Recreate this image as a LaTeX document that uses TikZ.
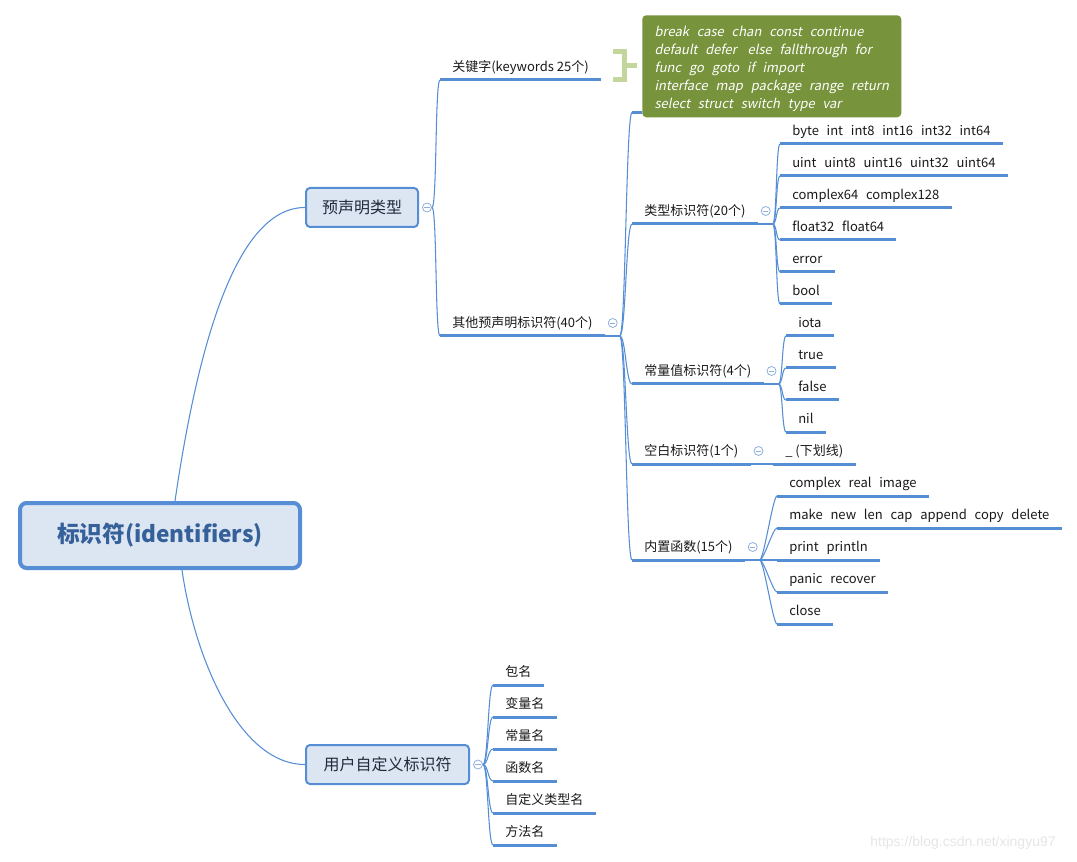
\documentclass[tikz,border=0pt]{standalone}
\usepackage{fontspec}
\setmainfont{Noto Sans CJK SC}
\newfontfamily\kwfont[FakeSlant=0.2]{Noto Sans CJK SC}
\newfontfamily\urlfont{Liberation Sans}
\newcommand{\wsp}{\hspace{0.6em}}
\usetikzlibrary{positioning}
\definecolor{mapline}{HTML}{558ED5}
\definecolor{boxfill}{HTML}{DCE6F2}
\definecolor{roottext}{HTML}{35609A}
\definecolor{topictext}{HTML}{1F2A3C}
\definecolor{foldline}{HTML}{8FB0DE}
\definecolor{kwgreen}{HTML}{77933C}
\definecolor{kwbracket}{HTML}{C3D69B}
\tikzset{
  root/.style = {
    draw = mapline,
    fill = boxfill,
    line width = 3pt,
    rounded corners = 5pt,
    minimum width = 210pt,
    minimum height = 48.75pt,
    text = roottext,
    font = \bfseries\fontsize{17pt}{20pt}\selectfont
  }
  ,
  topic/.style = {
    draw = mapline,
    fill = boxfill,
    line width = 1.5pt,
    rounded corners = 3pt,
    inner xsep = 0pt,
    minimum height = 29.25pt,
    text = topictext,
    font = \fontsize{12pt}{14pt}\selectfont
  }
  , % underlined entries
  leaf/.style = {
    anchor = south west,
    inner xsep = 9pt,
    inner ysep = 0pt,
    text height = 9pt,
    text depth = 6pt,
    text = black!90,
    font = \fontsize{9.75pt}{12pt}\selectfont
  }
  ,
  fold/.style = {
    circle,
    draw = foldline,
    fill = white,
    line width = 0.6pt,
    minimum size = 6.75pt,
    inner sep = 0pt,
    path picture = {
      \draw[foldline, line width=0.6pt]
        ([xshift=-2pt]path picture bounding box.center) --
        ([xshift=2pt]path picture bounding box.center);
    }
  }
  ,
  branch/.style = {draw=mapline, line width=0.8pt},
  uline/.style = {draw=mapline, line width=2.25pt}
}
\begin{document}
\begin{tikzpicture}[x=0.75pt, y=-0.75pt]
  \useasboundingbox (0,0) rectangle (1077,862);

  \node[root] (root) at (160,535.5) {标识符(identifiers)};
  \node[topic, minimum width=84pt] (pre) at (362,207.5) {预声明类型};
  \node[topic, minimum width=122.25pt] (user) at (387.5,764.5) {用户自定义标识符};

  \draw[branch] ([xshift=11.25pt]root.north) .. controls +(25,-171) and +(-65,0) .. (pre.west);
  \draw[branch] ([xshift=16.5pt]root.south) .. controls +(13,90) and +(-65,0) .. (user.west);

  % predeclared
  \node[fold] (f-pre) at ([xshift=6pt]pre.east) {};
  \coordinate (o-pre) at ([xshift=9.75pt]pre.east);
  \node[leaf] (kw) at (440,80) {关键字(keywords 25个)};
  \node[leaf] (other) at (440,336) {其他预声明标识符(40个)};
  \draw[branch] (o-pre) .. controls +(5,0) and +(-5,0) .. (kw.south west);
  \draw[branch] (o-pre) .. controls +(5,0) and +(-5,0) .. (other.south west);

  \node[fill=kwgreen, rounded corners=3pt, anchor=north west, minimum width=194.25pt,
        minimum height=76.5pt, align=left, text=white,
        font=\kwfont\fontsize{9.75pt}{13.5pt}\selectfont] (kwbox) at (642,15)
    {\rule{0pt}{11.5pt}break\wsp case\wsp chan\wsp const\wsp continue\\
     default\wsp defer\wsp\ else\wsp fallthrough\wsp for\\
     func\wsp go\wsp goto\wsp if\wsp import\\
     interface\wsp map\wsp package\wsp range\wsp return\\
     select\wsp struct\wsp switch\wsp type\wsp var};
  \draw[kwbracket, line width=3.75pt] (613,52) -- (624,52) -- (624,80) -- (613,80)
    (624,66) -- (637,66);

  % other predeclared identifiers
  \node[fold] (f-other) at ([xshift=6pt, yshift=9.75pt]other.south east) {};
  \coordinate (o-other) at ([xshift=11.25pt]other.south east);
  \node[leaf] (type) at (632,224) {类型标识符(20个)};
  \node[leaf] (const) at (632,384) {常量值标识符(4个)};
  \node[leaf] (blank) at (632,464) {空白标识符(1个)};
  \node[leaf] (builtin) at (632,560) {内置函数(15个)};
  \draw[branch] (o-other) .. controls +(6,0) and +(-6,0) .. ([xshift=-7.5pt, yshift=3.75pt]kwbox.south west);
  \draw[uline] ([xshift=-7.5pt, yshift=3.75pt]kwbox.south west) -- ([yshift=3.75pt]kwbox.south west);
  \foreach \n in {type,const,blank,builtin}
    \draw[branch] (o-other) .. controls +(6,0) and +(-6,0) .. (\n.south west);

  % type identifiers
  \node[leaf] (byte) at (780,144) {byte\wsp int\wsp int8\wsp int16\wsp int32\wsp int64};
  \node[leaf] (uint) at (780,176) {uint\wsp uint8\wsp uint16\wsp uint32\wsp uint64};
  \node[leaf] (cplx) at (780,208) {complex64\wsp complex128};
  \node[leaf] (float) at (780,240) {float32\wsp float64};
  \node[leaf] (error) at (780,272) {error};
  \node[leaf] (bool) at (780,304) {bool};
  \node[fold] (f-type) at ([xshift=6pt, yshift=9.75pt]type.south east) {};
  \coordinate (o-type) at ([xshift=11.25pt]type.south east);
  \foreach \n in {byte,uint,cplx,float,error,bool}
    \draw[branch] (o-type) .. controls +(4,0) and +(-4,0) .. (\n.south west);

  % constants
  \node[leaf] (iota) at (786,336) {iota};
  \node[leaf] (true) at (786,368) {true};
  \node[leaf] (false) at (786,400) {false};
  \node[leaf] (nil) at (786,432) {nil};
  \node[fold] (f-const) at ([xshift=6pt, yshift=9.75pt]const.south east) {};
  \coordinate (o-const) at ([xshift=11.25pt]const.south east);
  \foreach \n in {iota,true,false,nil}
    \draw[branch] (o-const) .. controls +(4,0) and +(-4,0) .. (\n.south west);

  % blank identifier
  \node[leaf] (under) at (773,464) {\_ (下划线)};
  \node[fold] (f-blank) at ([xshift=6pt, yshift=9.75pt]blank.south east) {};
  \draw[branch] (blank.south east) -- (under.south west);

  % builtin functions
  \node[leaf] (cfun) at (777,496) {complex\wsp real\wsp image};
  \node[leaf] (make) at (777,528) {make\wsp new\wsp len\wsp cap\wsp append\wsp copy\wsp delete};
  \node[leaf] (print) at (777,560) {print\wsp println};
  \node[leaf] (panic) at (777,592) {panic\wsp recover};
  \node[leaf] (close) at (777,624) {close};
  \node[fold] (f-builtin) at ([xshift=6pt, yshift=9.75pt]builtin.south east) {};
  \coordinate (o-builtin) at ([xshift=11.25pt]builtin.south east);
  \foreach \n in {cfun,make,print,panic,close}
    \draw[branch] (o-builtin) .. controls +(4,0) and +(-4,0) .. (\n.south west);

  % user defined
  \node[fold] (f-user) at ([xshift=6pt]user.east) {};
  \coordinate (o-user) at ([xshift=9.75pt]user.east);
  \node[leaf] (pkg) at (493,685) {包名};
  \node[leaf] (var) at (493,717) {变量名};
  \node[leaf] (cst) at (493,749) {常量名};
  \node[leaf] (func) at (493,781) {函数名};
  \node[leaf] (tname) at (493,813) {自定义类型名};
  \node[leaf] (meth) at (493,845) {方法名};
  \foreach \n in {pkg,var,cst,func,tname,meth}
    \draw[branch] (o-user) .. controls +(5,0) and +(-5,0) .. (\n.south west);

  \draw[branch] (other.south east) -- (o-other);
  \draw[branch] (type.south east) -- (o-type);
  \draw[branch] (const.south east) -- (o-const);
  \draw[branch] (builtin.south east) -- (o-builtin);

  \foreach \n in {kw,other,type,const,blank,builtin,under,
                  byte,uint,cplx,float,error,bool,iota,true,false,nil,
                  cfun,make,print,panic,close,pkg,var,cst,func,tname,meth}
    \draw[uline] (\n.south west) -- (\n.south east);

  \node[font=\urlfont\fontsize{10.5pt}{12pt}\selectfont, text=gray!20] (wm) at (963,843) {https://blog.csdn.net/xingyu97};
\end{tikzpicture}
\end{document}
